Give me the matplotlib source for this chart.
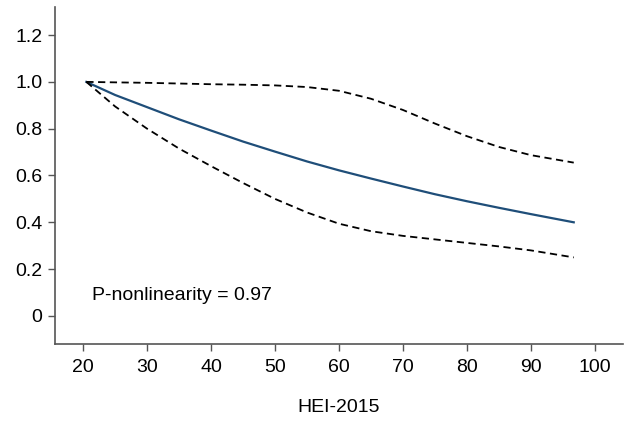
import numpy as np
import matplotlib.pyplot as plt

plt.rcParams['font.family'] = ['Liberation Sans', 'DejaVu Sans']

hei = [20.5, 25, 30, 35, 40, 45, 50, 55, 60, 65, 70, 75, 80, 85, 90, 96.7]
hr = [1.0, 0.944, 0.892, 0.84, 0.792, 0.745, 0.702, 0.66, 0.622, 0.587, 0.553, 0.52, 0.49, 0.462, 0.435, 0.40]
upper = [1.0, 0.998, 0.996, 0.993, 0.99, 0.988, 0.985, 0.978, 0.962, 0.928, 0.88, 0.822, 0.768, 0.722, 0.687, 0.655]
lower = [1.0, 0.895, 0.80, 0.715, 0.64, 0.568, 0.50, 0.442, 0.394, 0.362, 0.342, 0.327, 0.312, 0.297, 0.28, 0.25]

xticks = [20, 30, 40, 50, 60, 70, 80, 90, 100]
yticks = [0, 0.2, 0.4, 0.6, 0.8, 1.0, 1.2]
ylabels = ['0', '0.2', '0.4', '0.6', '0.8', '1.0', '1.2']

fig = plt.figure(figsize=(6.3, 4.23), dpi=100)
ax = fig.add_axes([55/630, 1-344/423, (623-55)/630, (344-7)/423])

ax.plot(hei, hr, color='#1f4e79', lw=1.6)
ax.plot(hei, upper, color='black', lw=1.3, ls=(0, (4, 2.5)))
ax.plot(hei, lower, color='black', lw=1.3, ls=(0, (4, 2.5)))

ax.text(21.4, 0.086, 'P-nonlinearity = 0.97', fontsize=14, va='center', ha='left')

ax.set_xlim(15.6, 104.4)
ax.set_ylim(-0.12, 1.32)
ax.set_xticks(xticks)
ax.set_yticks(yticks)
ax.set_yticklabels(ylabels)
ax.set_xlabel('HEI-2015', fontsize=14, labelpad=16)
ax.tick_params(labelsize=14, color='#555555', length=5, width=1)
ax.tick_params(axis='x', pad=6)
ax.tick_params(axis='y', pad=4)
for s in ['top', 'right']:
    ax.spines[s].set_visible(False)
for s in ['left', 'bottom']:
    ax.spines[s].set_color('#555555')
    ax.spines[s].set_linewidth(1.2)

plt.savefig('out.png', dpi=100)
